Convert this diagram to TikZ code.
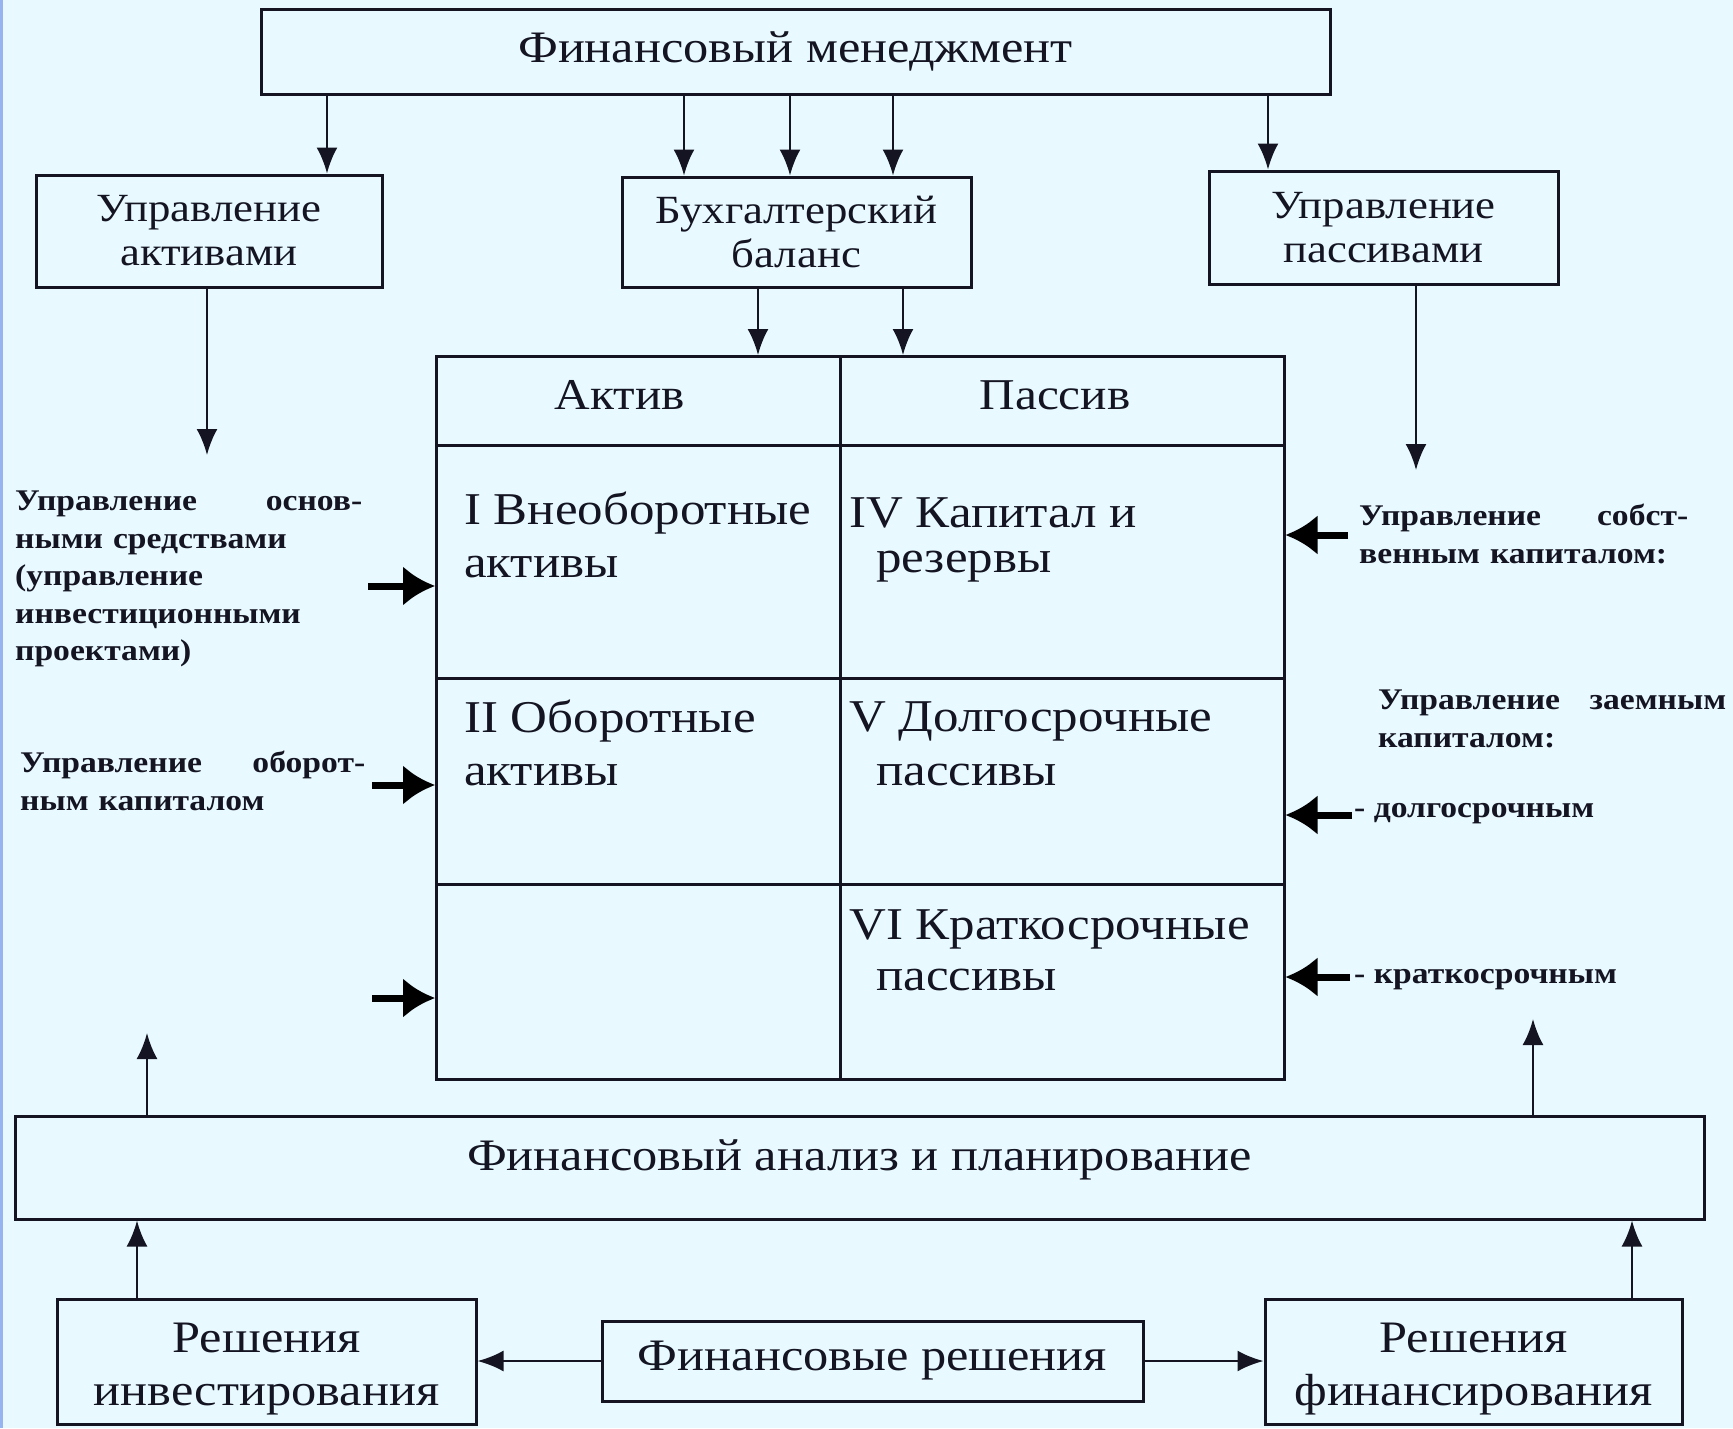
\documentclass[tikz,border=0pt]{standalone}
\usepackage{fontspec}
\setmainfont[FakeStretch=1.12]{Liberation Serif}
\usetikzlibrary{arrows.meta}
\definecolor{bgc}{RGB}{232,250,255}
\definecolor{edgec}{RGB}{150,180,240}
\definecolor{ink}{RGB}{20,20,35}
\begin{document}
\begin{tikzpicture}[x=1pt,y=-1pt,
  box/.style={draw=ink,line width=3pt,inner sep=0pt,align=center,text=ink},
  cell/.style={draw=ink,line width=2.5pt,inner sep=0pt,anchor=north west},
  arr/.style={draw=ink,line width=2.5pt,-{Latex[length=26pt,width=21pt]}},
  fat/.style={draw=black,line width=7pt,-{Latex[length=32pt,width=40pt]}},
  big/.style={font=\fontsize{40}{48}\selectfont},
  huge/.style={font=\fontsize{45}{52}\selectfont},
  btxt/.style={huge,align=center,text=ink,inner sep=0pt},
  celltxt/.style={font=\fontsize{45.5}{52}\selectfont,anchor=west,inner sep=0pt,text=ink},
  side/.style={font=\bfseries\fontsize{30}{37.5}\selectfont,inner sep=0pt,anchor=north west,text=ink}]
\fill[bgc] (0,0) rectangle (1733,1428);
\fill[edgec] (0,0) rectangle (3,1428);
\useasboundingbox (0,0) rectangle (1733,1428);
% top boxes
\node[box,huge,minimum width=1069pt,minimum height=85pt] (fm) at (795.5,51.5) {Финансовый менеджмент};
\node[box,big,minimum width=346pt,minimum height=112pt] (ua) at (209,231) {Управление\\[-4pt]активами};
\node[box,big,minimum width=349pt,minimum height=110pt] (bb) at (796.5,232) {Бухгалтерский\\[-4pt]баланс};
\node[box,big,minimum width=349pt,minimum height=113pt] (up) at (1383.5,227.5) {Управление\\[-4pt]пассивами};
% arrows top
\draw[arr] (fm.south -| 327,0) -- (ua.north -| 327,0);
\draw[arr] (fm.south -| 684,0) -- (bb.north -| 684,0);
\draw[arr] (fm.south -| 790,0) -- (bb.north -| 790,0);
\draw[arr] (fm.south -| 893,0) -- (bb.north -| 893,0);
\draw[arr] (fm.south -| 1268,0) -- (up.north -| 1268,0);
% table
\node[cell,minimum width=404pt,minimum height=89pt] (hA) at (435,355) {};
\node[cell,minimum width=444pt,minimum height=89pt] (hP) at (839,355) {};
\node[cell,minimum width=404pt,minimum height=233pt] (c1) at (435,444) {};
\node[cell,minimum width=444pt,minimum height=233pt] (c4) at (839,444) {};
\node[cell,minimum width=404pt,minimum height=206pt] (c2) at (435,677) {};
\node[cell,minimum width=444pt,minimum height=206pt] (c5) at (839,677) {};
\node[cell,minimum width=404pt,minimum height=195pt] (c3) at (435,883) {};
\node[cell,minimum width=444pt,minimum height=195pt] (c6) at (839,883) {};
\node[font=\fontsize{44}{50}\selectfont,text=ink] (tA) at (620,395) {Актив};
\node[font=\fontsize{44}{50}\selectfont,text=ink] (tP) at (1055,395) {Пассив};
\node[celltxt] (t1a) at (464,513) {I Внеоборотные};
\node[celltxt] (t1b) at (464,567) {активы};
\node[celltxt] (t4a) at (849,513) {IV Капитал и};
\node[celltxt] (t4b) at (876,567) {резервы};
\node[celltxt] (t2a) at (464,721) {II Оборотные};
\node[celltxt] (t2b) at (464,775) {активы};
\node[celltxt] (t5a) at (849,721) {V Долгосрочные};
\node[celltxt] (t5b) at (876,775) {пассивы};
\node[celltxt] (t6a) at (849,929) {VI Краткосрочные};
\node[celltxt] (t6b) at (876,980) {пассивы};
% arrows from balance to table
\draw[arr] (bb.south -| 758,0) -- (hA.north -| 758,0);
\draw[arr] (bb.south -| 903,0) -- (hP.north -| 903,0);
% management arrows down
\coordinate (uaend) at (207,455);
\coordinate (upend) at (1416,470);
\draw[arr] (ua.south -| uaend) -- (uaend);
\draw[arr] (up.south -| upend) -- (upend);
% side texts
\node[side,text width=347pt] (L1) at (15,491) {Управление\hfill основ-\\ными средствами\\(управление\\инвестиционными\\проектами)};
\node[side,text width=345pt] (L2) at (20,751) {Управление\hfill оборот-\\ным капиталом};
\node[side,text width=329pt] (R1) at (1359,504) {Управление\hfill собст-\\венным капиталом:};
\node[side,text width=348pt] (R2) at (1378,690) {Управление\hfill заемным\\капиталом:};
\node[side,anchor=west] (R3) at (1354,814) {- долгосрочным};
\node[side,anchor=west] (R4) at (1354,980) {- краткосрочным};
% fat arrows
\coordinate (la1) at (368,586);
\coordinate (la2) at (372,785);
\coordinate (la3) at (372,998);
\draw[fat] (la1) -- (c1.west |- la1);
\draw[fat] (la2) -- (c2.west |- la2);
\draw[fat] (la3) -- (c3.west |- la3);
\coordinate (ra1) at (1348,535);
\coordinate (ra2) at (1352,815);
\coordinate (ra3) at (1350,977);
\draw[fat] (ra1) -- (c4.east |- ra1);
\draw[fat] (ra2) -- (c5.east |- ra2);
\draw[fat] (ra3) -- (c6.east |- ra3);
% bottom
\node[box,minimum width=1689pt,minimum height=103pt] (fap) at (859.5,1167.5) {};
\node[btxt] (fapt) at ([yshift=8pt]fap.center) {Финансовый анализ и планирование};
\coordinate (fapL) at (147,1033);
\coordinate (fapR) at (1533,1019);
\draw[arr] (fap.north -| fapL) -- (fapL);
\draw[arr] (fap.north -| fapR) -- (fapR);
\node[box,minimum width=419pt,minimum height=125pt] (ri) at (266.5,1361.5) {};
\node[btxt] (rit) at ([yshift=-8pt]ri.center) {Решения\\[1pt]инвестирования};
\node[box,huge,minimum width=541pt,minimum height=80pt] (fr) at (872.5,1361) {Финансовые решения};
\node[box,minimum width=417pt,minimum height=125pt] (rf) at (1473.5,1361.5) {};
\node[btxt] (rft) at ([yshift=-8pt]rf.center) {Решения\\[1pt]финансирования};
\draw[arr] (ri.north -| 137,0) -- (fap.south -| 137,0);
\draw[arr] (rf.north -| 1632,0) -- (fap.south -| 1632,0);
\draw[arr] (fr.west) -- (ri.east |- fr.west);
\draw[arr] (fr.east) -- (rf.west |- fr.east);
\end{tikzpicture}
\end{document}
